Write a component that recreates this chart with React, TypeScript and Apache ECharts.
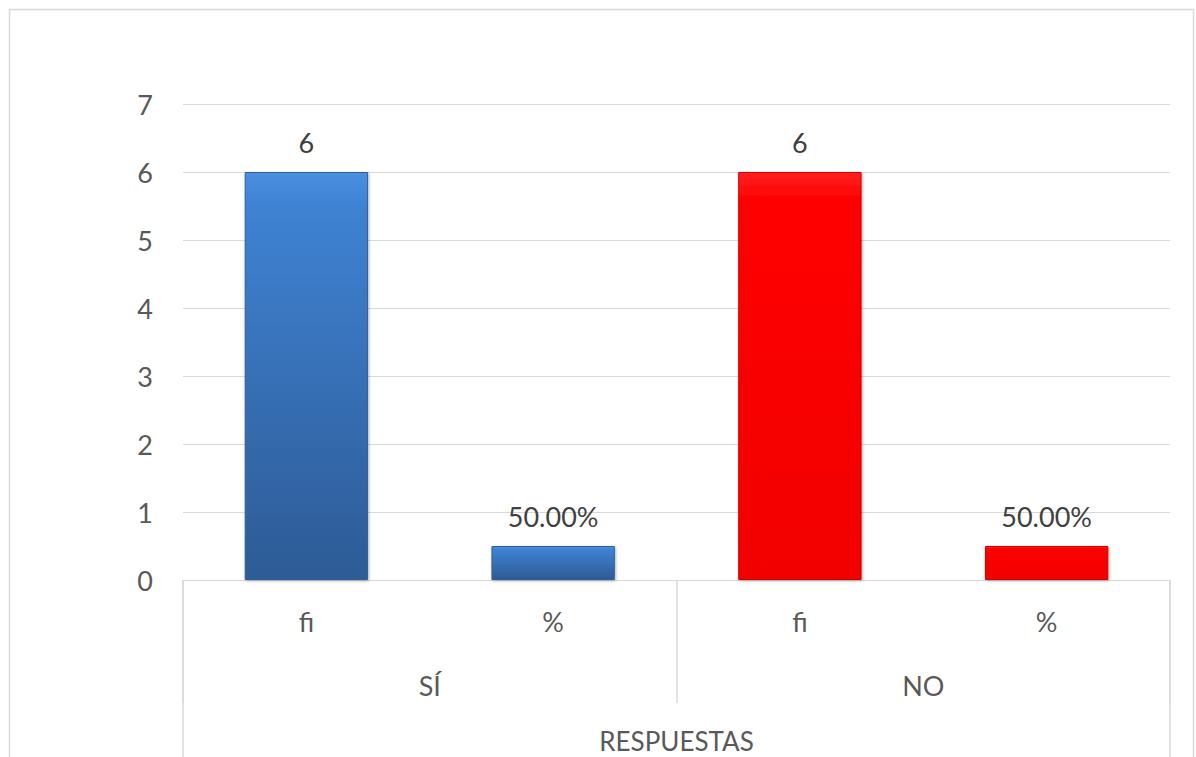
import React, { useEffect, useRef } from "react";
import * as echarts from "echarts";

// Survey answers: frequency (fi) and share (%) for each response
const subCategories = ["fi", "%", "fi", "%"];
const groups = ["SÍ", "NO"];
const axisTitle = ["RESPUESTAS"];
const siValues = [6, 0.5];
const noValues = [6, 0.5];
const yTicks = [0, 1, 2, 3, 4, 5, 6, 7];

const FONT = "Lato, 'Open Sans', sans-serif";
const FS = 27;

const blueFill = new echarts.graphic.LinearGradient(0, 0, 0, 1, [
  { offset: 0, color: "#4a8fe0" },
  { offset: 0.08, color: "#3f82d3" },
  { offset: 1, color: "#2d5b95" },
]);
const redFill = new echarts.graphic.LinearGradient(0, 0, 0, 1, [
  { offset: 0, color: "#ff2020" },
  { offset: 0.06, color: "#ff0505" },
  { offset: 1, color: "#f20000" },
]);

export default function App() {
  const ref = useRef<HTMLDivElement>(null);

  useEffect(() => {
    if (!ref.current) return;
    const chart = echarts.init(ref.current, null, { renderer: "svg" });

    const values = [...siValues, ...noValues];
    const barData = values.map((v, i) => ({
      value: v,
      itemStyle: {
        color: i < siValues.length ? blueFill : redFill,
        borderColor: i < siValues.length ? "#2f5f9c" : "#d40000",
        borderWidth: 1,
        shadowBlur: 3,
        shadowOffsetX: 1,
        shadowOffsetY: 1,
        shadowColor: "rgba(0,0,0,0.3)",
      },
    }));

    chart.setOption({
      animation: false,
      backgroundColor: "#ffffff",
      graphic: [
        {
          type: "rect",
          shape: { x: 9.5, y: 9.5, width: 1184, height: 760 },
          style: { fill: "none", stroke: "#d9d9d9", lineWidth: 1.5 },
          silent: true,
          z: -1,
        },
      ],
      grid: { left: 183, right: 26, top: 104, bottom: 177, containLabel: false },
      yAxis: {
        type: "value",
        min: yTicks[0],
        max: yTicks[yTicks.length - 1],
        interval: 1,
        axisLine: { show: false },
        axisTick: { show: false },
        axisLabel: { fontSize: FS, color: "#595959", margin: 30, fontFamily: FONT },
        splitLine: { lineStyle: { color: "#d9d9d9", width: 1 } },
      },
      xAxis: [
        {
          type: "category",
          data: subCategories,
          position: "bottom",
          axisLine: { show: true, lineStyle: { color: "#d9d9d9", width: 1 } },
          axisTick: { show: false },
          axisLabel: { fontSize: FS, color: "#595959", margin: 28, fontFamily: FONT },
        },
        {
          type: "category",
          data: groups,
          position: "bottom",
          axisLine: { show: false },
          axisTick: { show: true, length: 123, lineStyle: { color: "#d9d9d9", width: 1.5 } },
          axisLabel: { fontSize: FS, color: "#595959", margin: 92, fontFamily: FONT },
        },
        {
          type: "category",
          data: axisTitle,
          position: "bottom",
          axisLine: { show: false },
          axisTick: { show: true, length: 180, lineStyle: { color: "#d9d9d9", width: 1.5 } },
          axisLabel: { fontSize: 26, color: "#595959", margin: 148, fontFamily: FONT },
        },
      ],
      series: [
        {
          type: "bar",
          xAxisIndex: 0,
          barWidth: "50%",
          data: barData,
          label: {
            show: true,
            position: "top",
            distance: 16,
            fontSize: FS,
            color: "#404040",
            fontFamily: FONT,
            formatter: (p: any) =>
              subCategories[p.dataIndex] === "%"
                ? (p.value * 100).toFixed(2) + "%"
                : String(p.value),
          },
        },
      ],
    });

    return () => chart.dispose();
  }, []);

  return (
    <div
      ref={ref}
      style={{ position: "fixed", left: 0, top: 0, width: 1196, height: 757, background: "#fff" }}
    />
  );
}
